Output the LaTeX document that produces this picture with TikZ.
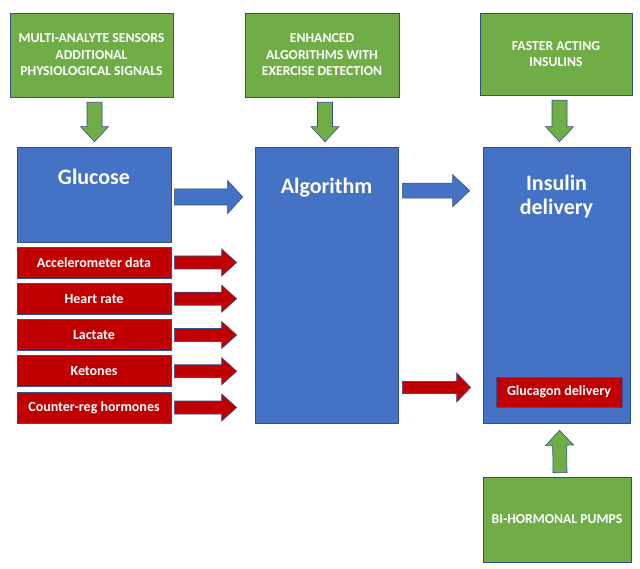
\documentclass[tikz,border=0pt]{standalone}
\usepackage{fontspec}
\setmainfont{Carlito}
\usetikzlibrary{calc}

\definecolor{boxblue}{HTML}{4472C4}
\definecolor{boxgreen}{HTML}{70AD47}
\definecolor{boxred}{HTML}{C00000}
\definecolor{edgeblue}{HTML}{2F528F}

% block arrow: style, from, to, shaft half width, head half width, head length
\newcommand{\blockarrow}[6]{%
  \coordinate (ba-a) at #2;
  \coordinate (ba-b) at #3;
  \coordinate (ba-h) at ($(ba-b)!#6!(ba-a)$);
  \draw[#1] ($(ba-a)!#4!90:(ba-b)$) -- ($(ba-h)!#4!90:(ba-b)$)
    -- ($(ba-h)!#5!90:(ba-b)$) -- (ba-b)
    -- ($(ba-h)!#5!-90:(ba-b)$) -- ($(ba-h)!#4!-90:(ba-b)$)
    -- ($(ba-a)!#4!-90:(ba-b)$) -- cycle;
}

\begin{document}
\begin{tikzpicture}[x=1pt,y=-1pt,
    every node/.style={draw=edgeblue, line width=0.6pt, text=white,
      font=\bfseries, align=center, inner sep=0pt},
    greenbox/.style={fill=boxgreen, font=\bfseries\fontsize{13.7}{16.5}\selectfont},
    bluebox/.style={fill=boxblue},
    sigbox/.style={fill=boxred, minimum width=154, minimum height=31,
      font=\bfseries\fontsize{14}{16}\selectfont},
    title/.style={draw=none, anchor=north, font=\bfseries\fontsize{22}{24}\selectfont},
    greenarrow/.style={fill=boxgreen, draw=edgeblue, line width=0.6pt},
    bluearrow/.style={fill=boxblue, draw=edgeblue, line width=0.6pt},
    redarrow/.style={fill=boxred, draw=edgeblue, line width=0.6pt}]
  \useasboundingbox (0,0) rectangle (640,569);

  % top row
  \node[greenbox, minimum width=163, minimum height=84] (sensors) at (91.5,55)
    {MULTI-ANALYTE SENSORS\\ADDITIONAL\\PHYSIOLOGICAL SIGNALS};
  \node[greenbox, minimum width=154, minimum height=84] (enhanced) at (322,55)
    {ENHANCED\\ALGORITHMS WITH\\EXERCISE DETECTION};
  \node[greenbox, minimum width=152, minimum height=82] (faster) at (556,54)
    {FASTER ACTING\\INSULINS};

  % main blocks
  \node[bluebox, minimum width=154, minimum height=95,
    label={[title, yshift=-22pt]north:Glucose}] (glucose) at (94,194.5) {};
  \node[bluebox, minimum width=143, minimum height=276,
    label={[title, yshift=-31pt]north:Algorithm}] (algo) at (326.5,285) {};
  \node[bluebox, minimum width=147, minimum height=276,
    label={[title, yshift=-28pt]north:Insulin\\delivery}] (insulin) at (556.5,285) {};
  \node[sigbox, minimum width=126, minimum height=30] (glucagon) at (559,392)
    {Glucagon delivery};
  \node[greenbox, minimum width=148, minimum height=85] (bihorm) at (557,519.5)
    {BI-HORMONAL PUMPS};

  % signals
  \foreach \sig/\txt [count=\i] in {acc/Accelerometer data, hr/Heart rate,
      lac/Lactate, ket/Ketones, crh/Counter-reg hormones}{
    \node[sigbox] (\sig) at (94,226.25+36.25*\i) {\txt};
    \blockarrow{redarrow}{([xshift=3pt]\sig.east)}
      {($(algo.west |- \sig.east)+(-18,0)$)}{6.5pt}{13.5pt}{15pt}
  }

  % arrows
  \blockarrow{greenarrow}{($(glucose.north |- sensors.south)+(0.5,5)$)}
    {($(glucose.north)+(0.5,-5)$)}{7.5pt}{14pt}{15pt}
  \blockarrow{greenarrow}{($(algo.north |- enhanced.south)+(-1.5,5)$)}
    {($(algo.north)+(-1.5,-5)$)}{7.5pt}{14pt}{15pt}
  \blockarrow{greenarrow}{($(insulin.north |- faster.south)+(3,5)$)}
    {($(insulin.north)+(3,-5)$)}{7.5pt}{14pt}{15pt}
  \blockarrow{greenarrow}{($(bihorm.north)+(3,-4)$)}
    {($(insulin.south)+(3,7)$)}{7pt}{14pt}{15pt}

  \coordinate (gl-out) at ([shift={(3,2.5)}]glucose.east);
  \blockarrow{bluearrow}{(gl-out)}{($(algo.west |- gl-out)+(-12,0)$)}{8pt}{16.5pt}{15pt}
  \coordinate (al-out) at ($(algo.north east)+(4,44)$);
  \blockarrow{bluearrow}{(al-out)}{($(insulin.west |- al-out)+(-13,0)$)}{7.5pt}{16pt}{17pt}
  \coordinate (al-low) at ($(algo.east |- glucagon)+(4,-4.5)$);
  \blockarrow{redarrow}{(al-low)}{($(insulin.west |- al-low)+(-12,0)$)}{6pt}{14.5pt}{14pt}
\end{tikzpicture}
\end{document}
